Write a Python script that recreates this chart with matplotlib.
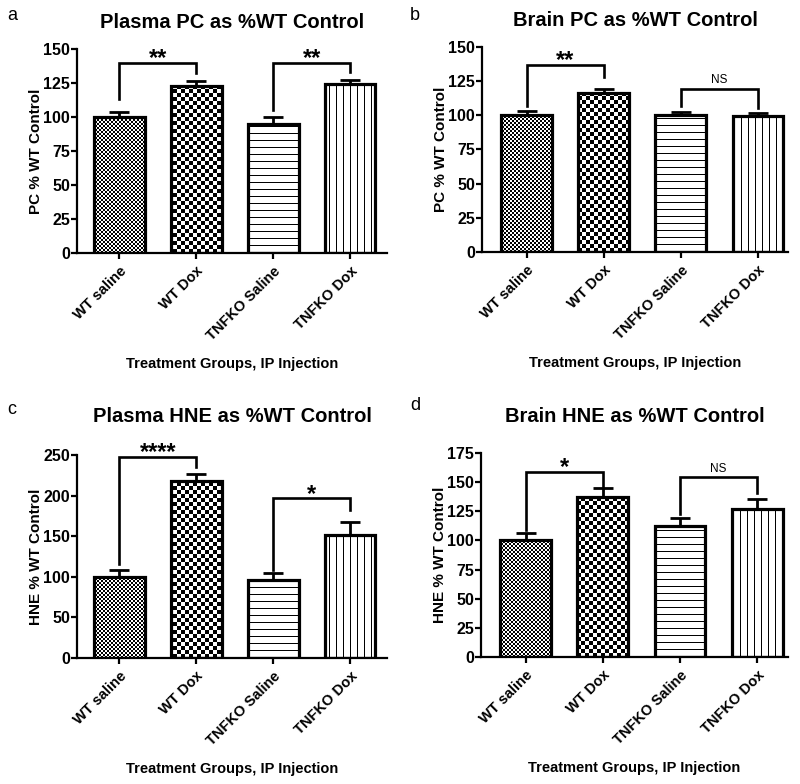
import matplotlib
matplotlib.use("Agg")
import matplotlib.pyplot as plt
import numpy as np

plt.rcParams['font.family'] = ['Liberation Sans', 'DejaVu Sans']

groups = ['WT saline', 'WT Dox', 'TNFKO Saline', 'TNFKO Dox']
xlabel = 'Treatment Groups, IP Injection'

# panel data (means, upper SEM)
plasma_pc = [100, 123, 94.5, 124]
plasma_pc_err = [3.4, 3.5, 5.4, 3.5]
brain_pc = [100, 116, 100.5, 99.8]
brain_pc_err = [3.0, 3.0, 2.0, 2.2]
plasma_hne = [100, 218, 96.6, 151.7]
plasma_hne_err = [8.0, 8.5, 8.4, 16.0]
brain_hne = [100.4, 137, 112.7, 127]
brain_hne_err = [5.6, 8.0, 6.3, 8.4]

titles = ['Plasma PC as %WT Control', 'Brain PC as %WT Control',
          'Plasma HNE as %WT Control', 'Brain HNE as %WT Control']
ylabels = ['PC % WT Control', 'PC % WT Control',
           'HNE % WT Control', 'HNE % WT Control']
letters = ['a', 'b', 'c', 'd']
ymax = [150, 150, 250, 175]
ystep = [25, 25, 50, 25]

# brackets: (i, j, bracket height, left leg end, right leg end, label)
brackets = [
    [(0, 1, 140, 113, 132, '**'), (2, 3, 140, 105, 133, '**')],
    [(0, 1, 136.6, 106.6, 128, '**'), (2, 3, 119.5, 107, 105.6, 'NS')],
    [(0, 1, 248, 116, 235.6, '****'), (2, 3, 196.5, 108, 182, '*')],
    [(0, 1, 159, 109, 146, '*'), (2, 3, 154, 123, 140.5, 'NS')],
]

fig = plt.figure(figsize=(8, 7.84), dpi=100)
W, H = 800, 784
# axes boxes in pixels: left, right, top, bottom
boxes = [(77, 387, 49, 253), (482, 788, 47, 252),
         (77, 387, 455, 658), (481, 788, 453, 657)]
xlims = [(-0.55, 3.48), (-0.58, 3.39), (-0.55, 3.48), (-0.58, 3.40)]
letter_pos = [(12, 15), (415, 15), (12, 410), (415, 405)]
title_pads = [15, 15, 24, 22]

data = [(plasma_pc, plasma_pc_err), (brain_pc, brain_pc_err),
        (plasma_hne, plasma_hne_err), (brain_hne, brain_hne_err)]


def pattern(kind, w, h):
    jj, ii = np.meshgrid(np.arange(w), np.arange(h))
    if kind == 'fine':
        a = (jj // 2 + ii // 2) % 2
    elif kind == 'coarse':
        a = (jj // 4 + ii // 4) % 2
    elif kind == 'h':
        a = (ii % 7 != 0).astype(int)
    else:
        a = (jj % 7 != 0).astype(int)
    return a.astype(float)


kinds = ['fine', 'coarse', 'h', 'v']

for k in range(4):
    l, r, t, b = boxes[k]
    ax = fig.add_axes([l / W, (H - b) / H, (r - l) / W, (b - t) / H])
    ax.patch.set_visible(False)
    vals, errs = data[k]
    x = np.arange(len(groups))
    ax.set_xlim(*xlims[k])
    ax.set_ylim(0, ymax[k])

    bars = ax.bar(x, vals, width=0.66, facecolor='none', edgecolor='black',
                  linewidth=2.3, zorder=3)
    ax.errorbar(x, vals, yerr=[np.zeros(4), errs], fmt='none', ecolor='black',
                elinewidth=2.0, capsize=7, capthick=2.0, zorder=2)

    # fill patterns as pixel-exact images clipped to each bar
    pw, ph = r - l, b - t
    for bar, kind in zip(bars, kinds):
        im = fig.figimage(pattern(kind, pw, ph), xo=l, yo=H - b, cmap='gray',
                          vmin=0, vmax=1, origin='lower', zorder=-1)
        im.set_clip_path(bar)

    for i, j, yb, yl, yr, lab in brackets[k]:
        ax.plot([x[i], x[i], x[j], x[j]], [yl, yb, yb, yr], color='black',
                lw=1.9, solid_joinstyle='miter', clip_on=False, zorder=4)
        if lab == 'NS':
            ax.annotate(lab, xy=((x[i] + x[j]) / 2, yb), xytext=(0, 4),
                        textcoords='offset points', ha='center', va='baseline',
                        fontsize=8.5)
        else:
            ax.annotate(lab, xy=((x[i] + x[j]) / 2, yb), xytext=(0, -1.5),
                        textcoords='offset points', ha='center', va='baseline',
                        fontsize=17, fontweight='bold')

    for s in ['top', 'right']:
        ax.spines[s].set_visible(False)
    for s in ['left', 'bottom']:
        ax.spines[s].set_linewidth(1.6)
    ax.set_yticks(np.arange(0, ymax[k] + 1, ystep[k]))
    ax.set_xticks(x)
    ax.set_xticklabels(groups, rotation=45, ha='right', rotation_mode='anchor',
                       fontsize=10.5, fontweight='bold')
    ax.tick_params(axis='both', width=1.6, length=4.5, direction='out')
    ax.tick_params(axis='y', labelsize=11.5, pad=0.5)
    for tl in ax.get_yticklabels():
        tl.set_fontweight('bold')
    ax.set_ylabel(ylabels[k], fontsize=11, fontweight='bold', labelpad=0)
    ax.set_xlabel(xlabel, fontsize=10.5, fontweight='bold', labelpad=10)
    ax.set_title(titles[k], fontsize=14.5, fontweight='bold', y=1.0,
                 pad=title_pads[k])
    fig.text(letter_pos[k][0] / W, 1 - letter_pos[k][1] / H, letters[k],
             fontsize=13, ha='center', va='center')

fig.savefig('out.png', dpi=100)
